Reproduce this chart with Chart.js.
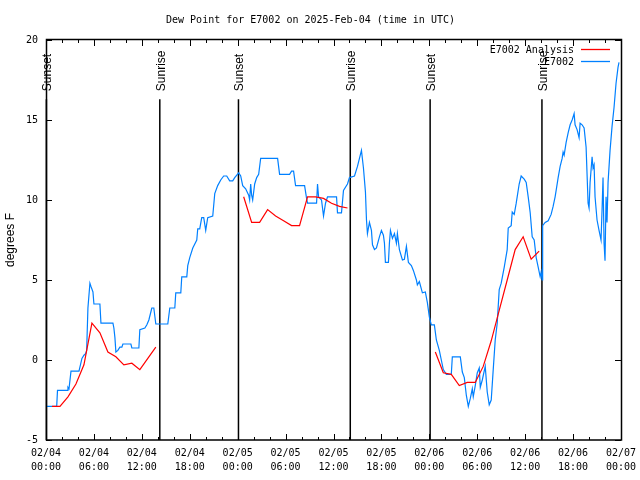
<!DOCTYPE html>
<html>
<head>
<meta charset="utf-8">
<script src="https://cdn.jsdelivr.net/npm/chart.js@4.4.1/dist/chart.umd.min.js"></script>
<style>
  html, body { margin: 0; padding: 0; background: #fff; }
</style>
</head>
<body>
<canvas id="dewChart" width="640" height="480"></canvas>
<script>
// Time is hours after 02/04 00:00 UTC
const xTickLabels = [
    ['02/04', '00:00'], ['02/04', '06:00'], ['02/04', '12:00'], ['02/04', '18:00'],
    ['02/05', '00:00'], ['02/05', '06:00'], ['02/05', '12:00'], ['02/05', '18:00'],
    ['02/06', '00:00'], ['02/06', '06:00'], ['02/06', '12:00'], ['02/06', '18:00'],
    ['02/07', '00:00']
];

// Station observations (E7002)
const stationHours = [
    0, 1.34, 1.44, 2.63, 2.75, 2.88, 3.13, 4.13, 4.5, 4.75, 4.96, 5.09, 5.25, 5.5, 5.63, 5.88,
    6.0, 6.75, 6.88, 8.38, 8.5, 8.63, 8.75, 9.0, 9.25, 9.5, 9.63, 10.63, 10.75, 11.63, 11.75, 12.38,
    12.63, 12.88, 13.13, 13.25, 13.5, 13.75, 15.25, 15.5, 16.13, 16.25, 16.88, 17.0, 17.63, 17.75,
    18.0, 18.38, 18.88, 19.0, 19.25, 19.5, 19.75, 20.0, 20.25, 20.88, 21.13, 21.5, 21.88, 22.25,
    22.63, 23.0, 23.38, 23.63, 24.13, 24.38, 24.63, 25.0, 25.38, 25.5, 25.63, 25.75, 25.88, 26.13,
    26.38, 26.63, 26.88, 29.0, 29.25, 30.5, 30.75, 31.0, 31.25, 32.38, 32.63, 32.75, 33.88, 34.0,
    34.13, 34.5, 34.75, 35.0, 35.25, 36.38, 36.5, 37.0, 37.25, 37.75, 38.0, 38.63, 39.0, 39.25,
    39.5, 39.75, 40.0, 40.13, 40.25, 40.5, 40.75, 40.88, 41.13, 41.38, 41.75, 42.0, 42.25, 42.38,
    42.5, 42.88, 43.0, 43.13, 43.38, 43.63, 43.88, 44.0, 44.25, 44.63, 44.88, 45.13, 45.38, 45.75,
    46.0, 46.38, 46.5, 46.75, 47.13, 47.5, 47.75, 48.0, 48.25, 48.63, 48.88, 49.25, 49.5, 49.75,
    50.13, 50.75, 50.88, 51.88, 52.13, 52.38, 52.63, 52.88, 53.13, 53.38, 53.5, 53.75, 54.0, 54.25,
    54.38, 54.63, 55.0, 55.25, 55.5, 55.75, 56.0, 56.25, 56.5, 56.75, 57.0, 57.38, 57.75, 57.88,
    58.25, 58.38, 58.63, 58.88, 59.0, 59.25, 59.5, 59.88, 60.13, 60.38, 60.63, 60.88, 61.13, 61.38,
    61.63, 61.88, 62.0, 62.13, 62.19, 62.5, 62.88, 63.25, 63.5, 63.75, 63.88, 64.13, 64.38, 64.63,
    64.75, 64.88, 65.13, 65.38, 65.63, 65.88, 66.13, 66.25, 66.5, 66.75, 66.88, 67.13, 67.38, 67.63,
    67.88, 68.0, 68.13, 68.38, 68.5, 68.63, 68.75, 69.0, 69.25, 69.5, 69.63, 69.75, 69.88, 70.0,
    70.13, 70.25, 70.38, 70.63, 70.88, 71.13, 71.38, 71.63, 71.75
];
const stationValues = [
    -2.9, -2.9, -1.9, -1.9, -1.7, -1.8, -0.7, -0.7, 0.1, 0.3, 0.4, 0.6, 3.25, 4.8, 4.6, 4.25,
    3.5, 3.5, 2.3, 2.3, 2.0, 1.4, 0.5, 0.6, 0.8, 0.8, 1.0, 1.0, 0.75, 0.75, 1.9, 2.0,
    2.2, 2.5, 3.0, 3.25, 3.25, 2.25, 2.25, 3.25, 3.25, 4.2, 4.2, 5.2, 5.2, 5.9,
    6.4, 7.0, 7.5, 8.2, 8.2, 8.9, 8.9, 8.1, 8.9, 9.0, 10.4, 10.9, 11.25, 11.5,
    11.5, 11.2, 11.2, 11.4, 11.7, 11.5, 10.9, 10.7, 10.3, 10.0, 11.0, 10.3, 10.0, 11.0,
    11.4, 11.6, 12.6, 12.6, 11.6, 11.6, 11.8, 11.8, 10.9, 10.9, 10.1, 9.8, 9.8, 11.0,
    10.2, 10.0, 9.0, 9.8, 10.2, 10.2, 9.2, 9.2, 10.6, 11.0, 11.4, 11.5, 12.1, 12.6,
    13.1, 12.0, 10.5, 8.75, 7.9, 8.6, 8.1, 7.2, 6.9, 7.0, 7.7, 8.1, 7.8, 7.3,
    6.1, 6.1, 7.3, 8.1, 7.6, 7.9, 7.3, 7.9, 6.9, 6.25, 6.3, 7.1, 6.1, 5.9,
    5.6, 5.0, 4.7, 4.9, 4.2, 4.25, 3.6, 2.7, 2.2, 2.2, 1.25, 0.6, 0.0, -0.6,
    -0.9, -0.9, 0.2, 0.2, -0.75, -1.1, -2.2, -2.9, -2.4, -1.8, -2.3, -1.6, -0.8, -0.5,
    -1.7, -1.25, -0.4, -2.0, -2.8, -2.5, -0.6, 1.25, 2.3, 4.4, 4.8, 5.8, 6.9, 8.25,
    8.4, 9.25, 9.1, 9.8, 10.2, 11.0, 11.5, 11.3, 11.1, 10.2, 9.2, 7.7, 7.5, 6.4,
    5.8, 5.2, 5.5, 5.0, 8.4, 8.6, 8.7, 9.1, 9.6, 10.2, 10.6, 11.4, 12.1, 12.6,
    13.0, 12.8, 13.6, 14.2, 14.7, 15.0, 15.4, 14.7, 14.4, 13.9, 14.8, 14.7, 14.5, 13.3,
    9.8, 9.5, 11.1, 12.7, 12.0, 12.2, 10.2, 8.75, 8.1, 7.5, 9.4, 11.4, 7.3, 6.2,
    10.2, 8.6, 11.1, 13.1, 14.6, 15.8, 17.3, 18.3, 18.6
];

// Analysis (hourly, null = gap)
const analysisHours = [
    0.75, 1.75, 2.75, 3.75, 4.75, 5.75, 6.75, 7.75, 8.75, 9.75, 10.75, 11.75, 12.75, 13.75,
    19,
    24.75, 25.75, 26.75, 27.75, 28.75, 29.75, 30.75, 31.75, 32.75, 33.75, 34.75, 35.75, 36.75, 37.75,
    43,
    48.75, 49.75, 50.75, 51.75, 52.75, 53.75, 54.75, 55.75, 56.75, 57.75, 58.75, 59.75, 60.75, 61.75
];
const analysisValues = [
    -2.9, -2.9, -2.3, -1.5, -0.3, 2.3, 1.7, 0.5, 0.2, -0.3, -0.2, -0.6, 0.1, 0.8,
    null,
    10.2, 8.6, 8.6, 9.4, 9.0, 8.7, 8.4, 8.4, 10.2, 10.2, 10.1, 9.8, 9.6, 9.5,
    null,
    0.5, -0.8, -0.9, -1.6, -1.4, -1.4, -0.4, 1.2, 3.1, 5.0, 6.9, 7.7, 6.3, 6.8
];

// Sunrise / sunset markers
const sunHours = [0.05, 14.25, 24.1, 38.1, 48.1, 62.1];
const sunLabels = ['Sunset', 'Sunrise', 'Sunset', 'Sunrise', 'Sunset', 'Sunrise'];
const sunLineTop = 16.3;
const sunLabelAt = 16.8;

const MONO = '"DejaVu Sans Mono", monospace';
const SANS = '"Liberation Sans", Arial, sans-serif';

// Frame, inward ticks, sun markers and legend
const gnuplotLook = {
    id: 'gnuplotLook',
    beforeDatasetsDraw(chart) {
        const { ctx, chartArea: a, scales: { x, y } } = chart;
        ctx.save();
        ctx.strokeStyle = '#000';
        ctx.fillStyle = '#000';
        ctx.lineWidth = 1.5;
        ctx.font = '12px ' + SANS;
        ctx.textAlign = 'left';
        ctx.textBaseline = 'middle';
        sunHours.forEach((h, i) => {
            const px = x.getPixelForValue(h);
            ctx.beginPath();
            ctx.moveTo(px, y.getPixelForValue(sunLineTop));
            ctx.lineTo(px, a.bottom);
            ctx.stroke();
            ctx.save();
            ctx.translate(px + 1.5, y.getPixelForValue(sunLabelAt));
            ctx.rotate(-Math.PI / 2);
            ctx.fillText(sunLabels[i], 0, 0);
            ctx.restore();
        });
        ctx.restore();
    },
    afterDraw(chart) {
        const { ctx, chartArea: a, scales: { x, y } } = chart;
        ctx.save();
        ctx.strokeStyle = '#000';
        ctx.lineWidth = 1;

        // ticks pointing inward
        ctx.beginPath();
        for (let h = 0; h <= 72; h += 2) {
            const px = Math.round(x.getPixelForValue(h)) + 0.5;
            const len = h % 6 === 0 ? 6 : 3;
            ctx.moveTo(px, a.bottom); ctx.lineTo(px, a.bottom - len);
            ctx.moveTo(px, a.top); ctx.lineTo(px, a.top + len);
        }
        for (let v = -5; v <= 20; v += 5) {
            const py = Math.round(y.getPixelForValue(v)) + 0.5;
            ctx.moveTo(a.left, py); ctx.lineTo(a.left + 6, py);
            ctx.moveTo(a.right, py); ctx.lineTo(a.right - 6, py);
        }
        ctx.stroke();

        // border
        ctx.lineWidth = 1.5;
        ctx.strokeRect(Math.round(a.left) + 0.5, Math.round(a.top) - 0.5,
            Math.round(a.right - a.left), Math.round(a.bottom - a.top) + 0.5);

        // legend
        ctx.font = '10px ' + MONO;
        ctx.textAlign = 'right';
        ctx.textBaseline = 'middle';
        chart.data.datasets.forEach((ds, i) => {
            const rowY = a.top + 10 + i * 12;
            ctx.fillStyle = '#000';
            ctx.fillText(ds.label, a.right - 47, rowY);
            ctx.strokeStyle = ds.borderColor;
            ctx.lineWidth = 1.3;
            ctx.beginPath();
            ctx.moveTo(a.right - 40, rowY - 0.5);
            ctx.lineTo(a.right - 11, rowY - 0.5);
            ctx.stroke();
        });
        ctx.restore();
    }
};

Chart.defaults.font.family = MONO;
Chart.defaults.font.size = 10;
Chart.defaults.color = '#000';

const ctx = document.getElementById('dewChart').getContext('2d');
const dewChart = new Chart(ctx, {
    type: 'line',
    data: {
        datasets: [
            {
                label: 'E7002 Analysis',
                data: analysisHours.map((h, i) => ({ x: h, y: analysisValues[i] })),
                borderColor: '#ff0000',
                borderWidth: 1.2,
                pointRadius: 0,
                spanGaps: false,
                tension: 0
            },
            {
                label: 'E7002',
                data: stationHours.map((h, i) => ({ x: h, y: stationValues[i] })),
                borderColor: '#0080ff',
                borderWidth: 1.2,
                pointRadius: 0,
                tension: 0
            }
        ]
    },
    options: {
        responsive: false,
        animation: false,
        devicePixelRatio: 1,
        layout: { padding: { left: 0, right: 19, top: 0, bottom: 0 } },
        plugins: {
            legend: { display: false },
            tooltip: { enabled: false },
            title: {
                display: true,
                text: 'Dew Point for E7002 on 2025-Feb-04 (time in UTC)',
                font: { family: MONO, size: 10, weight: 'normal', lineHeight: 1.2 },
                color: '#000',
                padding: { top: 14, bottom: 14 }
            }
        },
        scales: {
            x: {
                type: 'linear',
                min: 0,
                max: 72,
                grid: { display: false, drawTicks: false },
                border: { display: false },
                ticks: {
                    stepSize: 6,
                    padding: 6,
                    maxRotation: 0,
                    autoSkip: false,
                    font: { family: MONO, size: 10, lineHeight: 1.4 },
                    callback: (value, index) => xTickLabels[index]
                },
                afterFit: (scale) => {
                    scale.height = 40;
                    scale.paddingLeft = 0;
                    scale.paddingRight = 0;
                }
            },
            y: {
                min: -5,
                max: 20,
                grid: { display: false, drawTicks: false },
                border: { display: false },
                ticks: { stepSize: 5, padding: 8, font: { family: MONO, size: 10 } },
                title: {
                    display: true,
                    text: 'degrees F',
                    font: { family: SANS, size: 12 },
                    padding: { top: 3, bottom: 0 }
                },
                afterFit: (scale) => {
                    scale.width = 46;
                    scale.paddingTop = 0;
                    scale.paddingBottom = 0;
                }
            }
        }
    },
    plugins: [gnuplotLook]
});
</script>
</body>
</html>
